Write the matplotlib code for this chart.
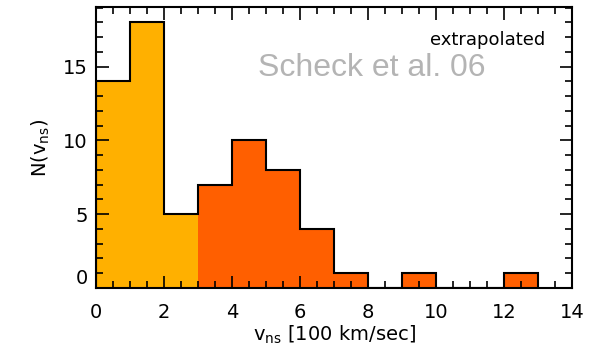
import matplotlib.pyplot as plt
from matplotlib.ticker import MultipleLocator

# histogram of kick velocities (bins of 100 km/sec)
bin_edges = [0, 1, 2, 3, 4, 5, 6, 7, 8, 9, 10, 11, 12, 13]
counts = [14, 18, 5, 7, 10, 8, 4, 1, 0, 1, 0, 0, 1]
split = 3  # bins below this are drawn yellow

yellow = "#FFB000"
red = "#FF5F00"

fig = plt.figure(figsize=(6.03, 3.49), dpi=100)
ax = fig.add_axes([0.159, 0.175, 0.79, 0.805])

for i in range(len(counts)):
    c = yellow if bin_edges[i] < split else red
    ax.bar(bin_edges[i], counts[i], width=bin_edges[i + 1] - bin_edges[i],
           align="edge", color=c, linewidth=0)

# outline of the histogram, drawn as steps
ax.stairs(counts, bin_edges, color="black", linewidth=1.5)

ax.set_xlim(0, 14)
ax.set_ylim(0, 19.05)
ax.xaxis.set_major_locator(MultipleLocator(2))
ax.xaxis.set_minor_locator(MultipleLocator(0.5))
ax.yaxis.set_major_locator(MultipleLocator(5))
ax.yaxis.set_minor_locator(MultipleLocator(1))
ax.tick_params(which="both", direction="in", top=True, right=True,
               width=1.2, labelsize=14)
ax.tick_params(which="major", length=9)
ax.tick_params(which="minor", length=5)
ax.tick_params(axis="x", which="major", pad=11)
ax.tick_params(axis="y", which="major", pad=6)
for s in ax.spines.values():
    s.set_linewidth(1.5)

ax.set_xlabel(r"v$_{\rm ns}$ [100 km/sec]", fontsize=14, labelpad=1)
ax.set_ylabel(r"N(v$_{\rm ns}$)", fontsize=14, labelpad=8)

ax.text(13.2, 16.8, "extrapolated", ha="right", va="center", fontsize=13)
ax.text(8.1, 14.9, "Scheck et al. 06", ha="center", va="center",
        fontsize=23, color="#B4B4B4", family="Liberation Sans")

# the "0" label sits a little above the bottom axis in the original
fig.canvas.draw()
for lab in ax.get_yticklabels():
    if lab.get_text() == "0":
        lab.set_va("bottom")

fig.savefig("out.png", dpi=100)
